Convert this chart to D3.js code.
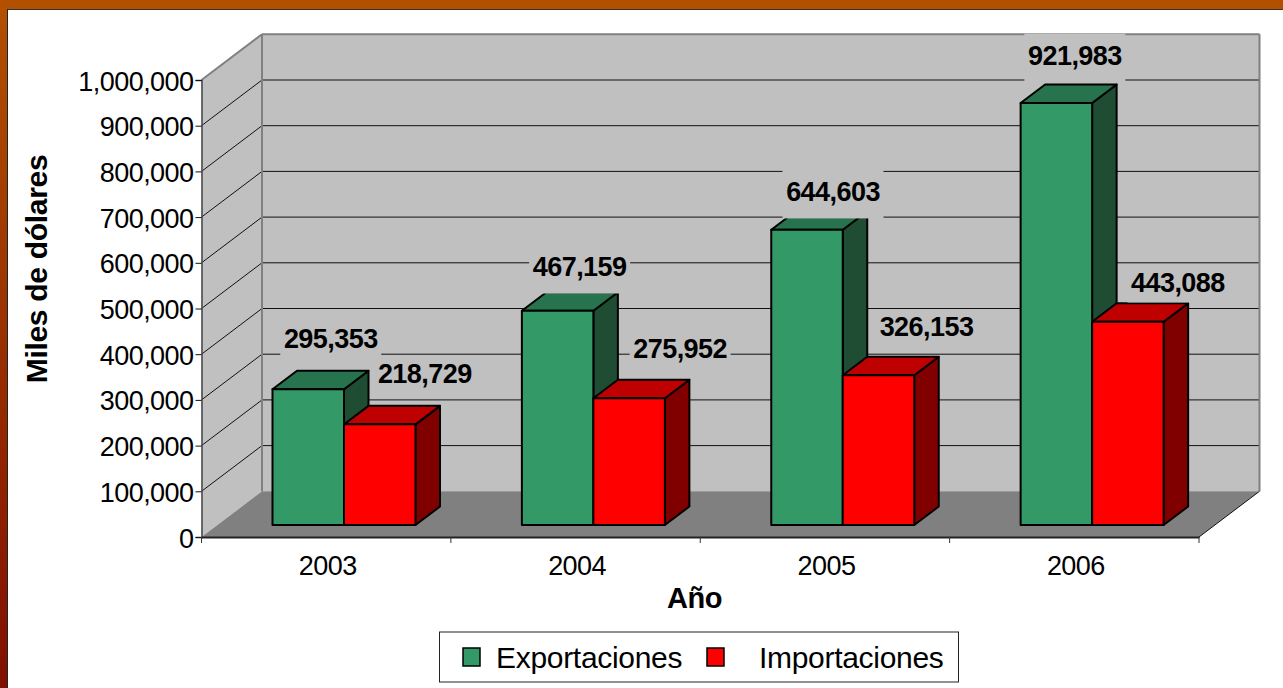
<!doctype html>
<html>
<head>
<meta charset="utf-8"/>
<title>Exportaciones e importaciones</title>
<script src="https://d3js.org/d3.v7.min.js"></script>
<style>
	body { margin: 0; background: #fff; overflow: hidden; }
	svg { display: block; }
	text { font-family: "Liberation Sans", Arial, sans-serif; fill: #000; }
	.tick text { font-size: 27px; letter-spacing: -0.55px; }
	.valueLabel { font-size: 27px; font-weight: bold; letter-spacing: -0.55px; }
	.axisTitle { font-size: 29px; font-weight: bold; letter-spacing: -0.4px; }
	.yTitle { font-size: 30px; letter-spacing: -0.3px; }
	.legendText { font-size: 30px; letter-spacing: -0.3px; }
</style>
</head>
<body>
<svg id="chart" width="1283" height="688"></svg>
<script>
	var years = ["2003", "2004", "2005", "2006"];
	var seriesNames = ["Exportaciones", "Importaciones"];
	var exportaciones = [295353, 467159, 644603, 921983];
	var importaciones = [218729, 275952, 326153, 443088];
	var yTicks = [0, 100000, 200000, 300000, 400000, 500000, 600000, 700000, 800000, 900000, 1000000];

	var seriesValues = [exportaciones, importaciones];
	var frontColors = ["#339966", "#ff0000"];
	var topColors = ["#26734d", "#bf0000"];
	var sideColors = ["#1f4d33", "#800000"];

	var svg = d3.select("#chart");

	// marco naranja
	var grad = svg.append("defs").append("linearGradient")
		.attr("id", "frameGrad")
		.attr("x1", 0).attr("x2", 0).attr("y1", 0).attr("y2", 1);
	grad.append("stop").attr("offset", "0%").attr("stop-color", "#b35000");
	grad.append("stop").attr("offset", "100%").attr("stop-color", "#7f1000");

	svg.append("rect").attr("x", 0).attr("y", 0).attr("width", 7).attr("height", 688).attr("fill", "url(#frameGrad)");
	svg.append("rect").attr("x", 0).attr("y", 0).attr("width", 1283).attr("height", 9).attr("fill", "#b35000");
	svg.append("rect").attr("x", 7).attr("y", 9).attr("width", 1276).attr("height", 1).attr("fill", "#333");
	svg.append("rect").attr("x", 7).attr("y", 9).attr("width", 1).attr("height", 679).attr("fill", "#222");

	// escalas
	var y = d3.scaleLinear().domain([0, 1000000]).range([537, 80]);
	var x = d3.scaleBand().domain(years).range([201.5, 1199]);
	var xSeries = d3.scaleBand().domain(seriesNames).range([71, 214]);

	var wallDx = 60.5, wallDy = -45.7;   // fondo del grafico
	var floorDy = -12.7;                 // frente de las barras
	var barDx = 24.5, barDy = -18.5;     // profundidad de las barras

	var x0 = 201.5, x1 = 1199;
	var pts = (a) => a.map(p => p.join(",")).join(" ");

	// paredes y piso
	svg.append("polygon")
		.attr("points", pts([[x0 + wallDx, y(1000000) + wallDy], [x1 + wallDx, y(1000000) + wallDy], [x1 + wallDx, y(0) + wallDy], [x0 + wallDx, y(0) + wallDy]]))
		.attr("fill", "#c0c0c0");
	svg.append("polygon")
		.attr("points", pts([[x0, y(1000000)], [x0 + wallDx, y(1000000) + wallDy], [x0 + wallDx, y(0) + wallDy], [x0, y(0)]]))
		.attr("fill", "#c0c0c0");

	// rejilla
	svg.selectAll(".gridBack").data(yTicks.slice(1)).enter().append("line")
		.attr("class", "gridBack")
		.attr("x1", x0 + wallDx).attr("x2", x1 + wallDx)
		.attr("y1", d => y(d) + wallDy).attr("y2", d => y(d) + wallDy)
		.attr("stroke", d => d == 1000000 ? "#808080" : "#111")
		.attr("stroke-width", d => d == 1000000 ? 2 : 1);
	svg.selectAll(".gridSide").data(yTicks.slice(1)).enter().append("line")
		.attr("class", "gridSide")
		.attr("x1", x0).attr("x2", x0 + wallDx)
		.attr("y1", d => y(d)).attr("y2", d => y(d) + wallDy)
		.attr("stroke", d => d == 1000000 ? "#808080" : "#111")
		.attr("stroke-width", d => d == 1000000 ? 2 : 1);

	// bordes de las paredes
	svg.append("line").attr("x1", x0 + wallDx).attr("x2", x0 + wallDx)
		.attr("y1", y(1000000) + wallDy).attr("y2", y(0) + wallDy)
		.attr("stroke", "#808080").attr("stroke-width", 2);
	svg.append("line").attr("x1", x1 + wallDx).attr("x2", x1 + wallDx)
		.attr("y1", y(1000000) + wallDy).attr("y2", y(0) + wallDy)
		.attr("stroke", "#808080").attr("stroke-width", 2);

	svg.append("polygon")
		.attr("points", pts([[x0, y(0)], [x1, y(0)], [x1 + wallDx, y(0) + wallDy], [x0 + wallDx, y(0) + wallDy]]))
		.attr("fill", "#808080");
	svg.append("line").attr("x1", x1).attr("x2", x1 + wallDx)
		.attr("y1", y(0)).attr("y2", y(0) + wallDy)
		.attr("stroke", "#111");

	// etiquetas movidas a mano en el original: desplazamiento respecto a la cara superior de cada barra
	var labelNudgeX = [[22.5, 45], [22, 51], [26, 48], [18.5, 50]];
	var labelNudgeY = [[-50.3, -50.3], [-44.3, -49.3], [-38.3, -48.3], [-47.3, -39.3]];
	var labelBoxTop = [-22, -17], labelBoxBottom = [27, 20], labelBoxWidth = 101;

	function barX(i, s) { return x(years[i]) + xSeries(seriesNames[s]); }
	function barTop(v) { return y(v) + floorDy; }
	function labelX(i, s) { return barX(i, s) + xSeries.bandwidth() / 2 + labelNudgeX[i][s]; }
	function labelY(i, s) { return barTop(seriesValues[s][i]) + labelNudgeY[i][s]; }

	// barras
	years.forEach(function(year, i) {
		seriesNames.forEach(function(name, s) {
			var g = svg.append("g").attr("class", "bar")
				.attr("stroke", "#000").attr("stroke-width", 2).attr("stroke-linejoin", "round");
			var left = barX(i, s), right = left + xSeries.bandwidth();
			var top = barTop(seriesValues[s][i]), base = y(0) - 12;
			g.append("polygon").attr("fill", sideColors[s])
				.attr("points", pts([[right, top], [right + barDx, top + barDy], [right + barDx, base + barDy], [right, base]]));
			g.append("polygon").attr("fill", topColors[s])
				.attr("points", pts([[left, top], [left + barDx, top + barDy], [right + barDx, top + barDy], [right, top]]));
			g.append("rect").attr("fill", frontColors[s])
				.attr("x", left).attr("y", top).attr("width", right - left).attr("height", base - top);
		});
	});

	// fondos grises de las etiquetas, tapan la rejilla y a veces la barra
	var wallTop = y(1000000) + wallDy - 1;
	seriesNames.forEach(function(name, s) {
		years.forEach(function(year, i) {
			var cx = labelX(i, s), cy = labelY(i, s);
			var t = Math.max(cy + labelBoxTop[s], wallTop);
			svg.append("rect").attr("fill", "#c0c0c0")
				.attr("x", cx - labelBoxWidth / 2).attr("y", t)
				.attr("width", labelBoxWidth).attr("height", cy + labelBoxBottom[s] - t);
		});
	});
	seriesNames.forEach(function(name, s) {
		years.forEach(function(year, i) {
			svg.append("text").attr("class", "valueLabel")
				.attr("x", labelX(i, s)).attr("y", labelY(i, s))
				.attr("dy", "0.35em").attr("text-anchor", "middle")
				.text(d3.format(",")(seriesValues[s][i]));
		});
	});

	// ejes
	var yAxis = d3.axisLeft(y).tickValues(yTicks).tickFormat(d3.format(",")).tickSize(6).tickPadding(2);
	var gy = svg.append("g").attr("transform", "translate(" + x0 + ",0)").call(yAxis);
	gy.selectAll(".domain").attr("stroke", "#444").attr("stroke-width", 1.5);
	gy.selectAll("line").attr("stroke", "#111");
	gy.selectAll(".tick text").attr("dy", "0.37em");

	var xAxis = d3.axisBottom(x).tickSize(0).tickPadding(19);
	var gx = svg.append("g").attr("transform", "translate(0," + y(0) + ")").call(xAxis);
	gx.selectAll(".domain").attr("stroke", "#222").attr("stroke-width", 2);
	gx.selectAll(".tick text").attr("dx", 1.5);

	var edges = years.map(d => x(d)).concat([x1]);
	svg.selectAll(".edgeTick").data(edges).enter().append("line")
		.attr("class", "edgeTick")
		.attr("x1", d => d).attr("x2", d => d)
		.attr("y1", y(0)).attr("y2", y(0) + 6)
		.attr("stroke", "#333");

	// titulos
	svg.append("text").attr("class", "axisTitle")
		.attr("x", 694.5).attr("y", 598).attr("dy", "0.35em").attr("text-anchor", "middle")
		.text("Año");
	svg.append("text").attr("class", "axisTitle yTitle")
		.attr("transform", "translate(36,269) rotate(-90)")
		.attr("dy", "0.35em").attr("text-anchor", "middle")
		.text("Miles de dólares");

	// leyenda
	var legend = svg.append("g");
	legend.append("rect").attr("x", 439.5).attr("y", 632).attr("width", 519).attr("height", 50)
		.attr("fill", "#fff").attr("stroke", "#222");
	var legendX = [463, 707], legendTextX = [496, 759];
	seriesNames.forEach(function(name, s) {
		legend.append("rect").attr("x", legendX[s]).attr("y", 648).attr("width", 17).attr("height", 18)
			.attr("fill", frontColors[s]).attr("stroke", "#000").attr("stroke-width", 1.5);
		legend.append("text").attr("class", "legendText")
			.attr("x", legendTextX[s]).attr("y", 657).attr("dy", "0.35em")
			.text(name);
	});
</script>
</body>
</html>
